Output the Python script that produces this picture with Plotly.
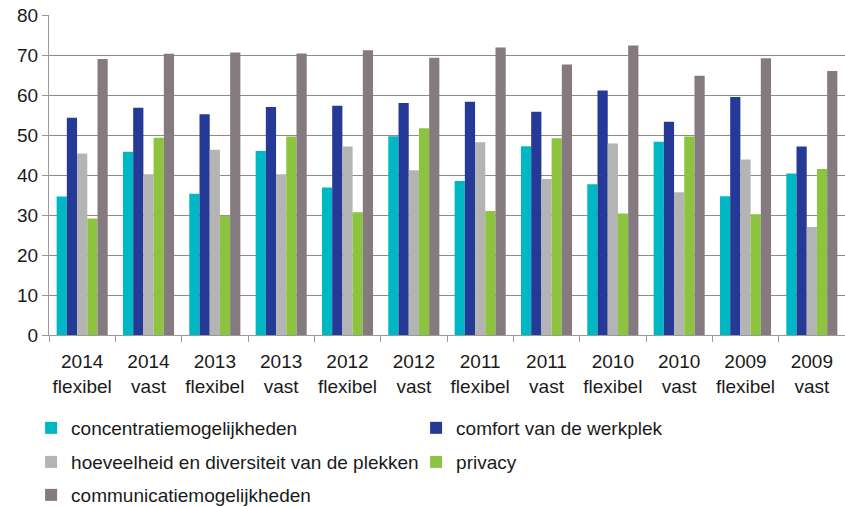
import plotly.graph_objects as go

categories = ["2014<br>flexibel", "2014<br>vast", "2013<br>flexibel", "2013<br>vast",
              "2012<br>flexibel", "2012<br>vast", "2011<br>flexibel", "2011<br>vast",
              "2010<br>flexibel", "2010<br>vast", "2009<br>flexibel", "2009<br>vast"]

concentratie = [34.6, 45.8, 35.3, 46.0, 36.9, 49.7, 38.5, 47.2, 37.7, 48.3, 34.7, 40.4]
comfort = [54.3, 56.8, 55.2, 57.0, 57.3, 58.0, 58.3, 55.8, 61.1, 53.3, 59.5, 47.1]
hoeveelheid = [45.4, 40.2, 46.3, 40.2, 47.1, 41.2, 48.2, 39.0, 47.9, 35.7, 43.9, 27.0]
privacy = [29.1, 49.3, 29.8, 49.6, 30.7, 51.7, 31.0, 49.2, 30.4, 49.6, 30.2, 41.5]
communicatie = [69.0, 70.3, 70.6, 70.4, 71.2, 69.3, 71.9, 67.6, 72.4, 64.8, 69.2, 66.0]

# (name, values, colour, legend row)
series = [
    ("concentratiemogelijkheden", concentratie, "#00B8C4", "legend"),
    ("comfort van de werkplek", comfort, "#253A96", "legend"),
    ("hoeveelheid en diversiteit van de plekken", hoeveelheid, "#B4B4B4", "legend2"),
    ("privacy", privacy, "#8DC43F", "legend2"),
    ("communicatiemogelijkheden", communicatie, "#847A80", "legend3"),
]

font_family = "Liberation Sans, Arial, sans-serif"

fig = go.Figure()
for name, vals, color, leg in series:
    fig.add_trace(go.Bar(x=categories, y=vals, name=name, legend=leg,
                         marker=dict(color=color, line=dict(width=0))))

# one legend per row so the row spacing matches the original
legend_style = dict(orientation="h", x=-0.0225, xanchor="left", yanchor="middle",
                    entrywidth=340, entrywidthmode="pixels",
                    font=dict(size=19), traceorder="normal", itemclick=False,
                    bgcolor="rgba(0,0,0,0)")

fig.update_layout(
    width=845, height=507,
    # autoexpand off: the bottom legend row must not shrink the plot area
    margin=dict(l=49, r=0, t=15, b=172, autoexpand=False),
    barmode="group", bargap=0.23, bargroupgap=0,
    plot_bgcolor="white", paper_bgcolor="white",
    font=dict(family=font_family, size=18, color="#1a1a1a"),
    legend=dict(legend_style, y=-0.2906),
    legend2=dict(legend_style, y=-0.397),
    legend3=dict(legend_style, y=-0.5),
)
fig.update_xaxes(showline=True, linecolor="#9a9a9a", linewidth=1, automargin=False,
                 ticks="outside", tickson="boundaries", ticklen=6, tickcolor="#9a9a9a",
                 tickangle=0, tickfont=dict(size=19), ticklabelstandoff=9)
fig.update_yaxes(range=[0, 80], dtick=10, showgrid=True, gridcolor="#8c8c8c", gridwidth=1,
                 showline=True, linecolor="#9a9a9a", linewidth=1, zeroline=False,
                 automargin=False, ticks="outside", ticklen=6, tickcolor="#9a9a9a",
                 tickfont=dict(size=19))

# drop the default body margin so the figure sits at the window's corner
fig.write_html("out.html", config={"displayModeBar": False},
               post_script="document.body.style.margin='0px';")
